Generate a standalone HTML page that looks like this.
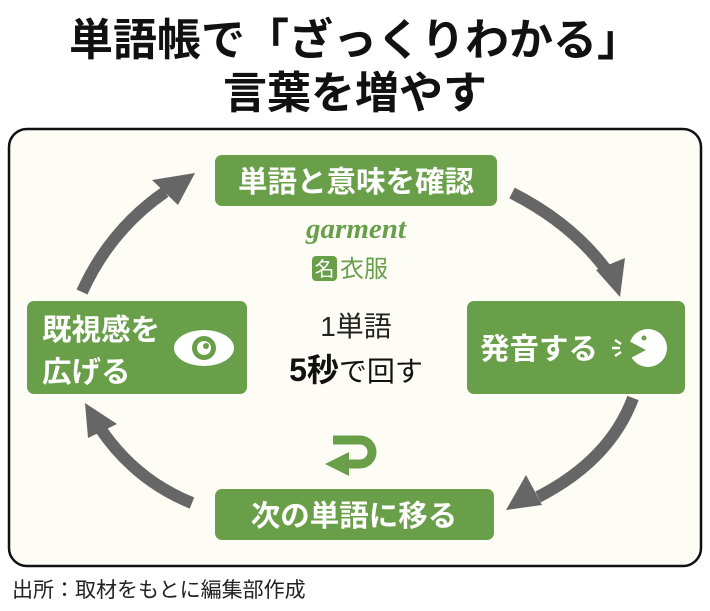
<!DOCTYPE html>
<html><head><meta charset="utf-8"><style>
body{margin:0;width:710px;height:611px;background:#fff;overflow:hidden}
svg{display:block}
text{font-family:"Liberation Sans","Noto Sans CJK JP",sans-serif}
</style></head><body>
<svg width="710" height="611" viewBox="0 0 710 611">
<text x="355" y="55" text-anchor="middle" font-size="44" font-weight="bold" fill="#111">単語帳で「ざっくりわかる」</text>
<text x="355" y="108" text-anchor="middle" font-size="44" font-weight="bold" fill="#111">言葉を増やす</text>
<rect x="9" y="129" width="692" height="437" rx="18" fill="#fdfdf6" stroke="#111" stroke-width="2.5"/>
<g fill="#6a9f4a">
<rect x="215" y="155" width="282" height="51" rx="7"/>
<rect x="27" y="301" width="220" height="93" rx="7"/>
<rect x="467" y="301" width="218" height="93" rx="7"/>
<rect x="215" y="489" width="279" height="51" rx="7"/>
</g>
<g fill="#fff" font-weight="bold" font-size="29.5">
<text x="356" y="192" text-anchor="middle">単語と意味を確認</text>
<text x="42" y="340">既視感を</text>
<text x="42" y="382">広げる</text>
<text x="480" y="359">発音する</text>
<text x="354" y="526" text-anchor="middle">次の単語に移る</text>
</g>
<text x="356" y="238" text-anchor="middle" style="font-family:'Liberation Serif',serif;font-style:italic;font-weight:bold" font-size="29" fill="#6a9f4a">garment</text>
<rect x="312" y="256" width="25" height="25" rx="4" fill="#6a9f4a"/>
<text x="324.5" y="276" text-anchor="middle" font-size="20" fill="#fff">名</text>
<text x="340" y="277" font-size="24" fill="#6a9f4a">衣服</text>
<text x="356" y="336" text-anchor="middle" font-size="28" fill="#222">1単語</text>
<text x="356" y="381" text-anchor="middle" font-size="28" fill="#111"><tspan font-weight="bold" font-size="32">5秒</tspan>で回す</text>
<ellipse cx="204" cy="348" rx="30" ry="18" fill="#fff"/>
<circle cx="204" cy="348" r="12" fill="#6a9f4a"/>
<circle cx="204" cy="348" r="7" fill="#fff"/>
<circle cx="206" cy="346" r="3" fill="#6a9f4a"/>
<circle cx="648" cy="348" r="19" fill="#fff"/>
<path d="M627 340 L646 350 L627 360 Z" fill="#6a9f4a"/>
<circle cx="644" cy="338" r="2.5" fill="#6a9f4a"/>
<path d="M615 340 L621 344 M612 348 L620 348 M615 356 L621 352" stroke="#fff" stroke-width="2.5"/>
<path d="M333 440 H360 A12 12 0 0 1 360 464 H348" fill="none" stroke="#6a9f4a" stroke-width="9"/>
<path d="M325 464 L349 452 L349 476 Z" fill="#6a9f4a"/>
<g fill="none" stroke="#666" stroke-width="12">
<path d="M82 292 Q110 230 165 192"/>
<path d="M512 193 Q575 225 610 275"/>
<path d="M633 398 Q610 460 538 497"/>
<path d="M192 503 Q135 480 100 428"/>
</g>
<g fill="#666">
<path d="M195 173 L152 180 L178 205 Z"/>
<path d="M620 297 L596 270 L625 258 Z"/>
<path d="M506 510 L526 475 L542 505 Z"/>
<path d="M85 403 L117 424 L88 438 Z"/>
</g>
<text x="12" y="597" font-size="21" fill="#222">出所：取材をもとに編集部作成</text>
</svg>
</body></html>
